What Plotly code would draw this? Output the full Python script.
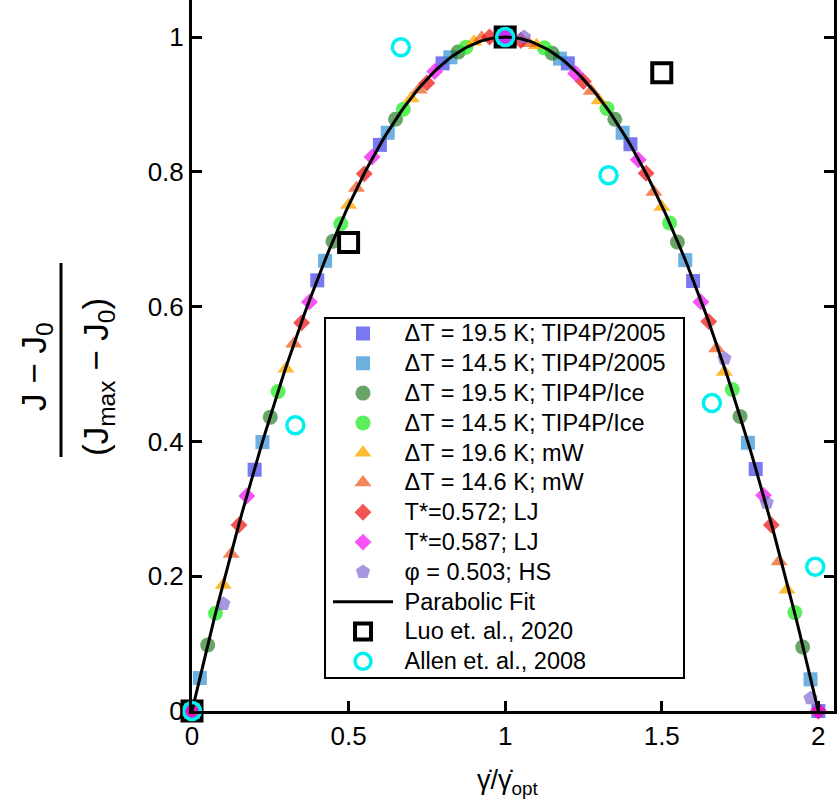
import numpy as np
import plotly.graph_objects as go

# ---- data ----
x_b195 = [0, 0.2, 0.4, 0.6, 0.8, 1.0, 1.2, 1.4, 1.6, 1.8, 2.0]
y_b195 = [0, 0.358, 0.639, 0.840, 0.961, 1.0, 0.961, 0.841, 0.638, 0.359, 0.0]

x_b145 = [0.025, 0.225, 0.425, 0.625, 0.825, 1.175, 1.375, 1.575, 1.775, 1.975]
y_b145 = [0.049, 0.399, 0.668, 0.858, 0.970, 0.968, 0.858, 0.669, 0.398, 0.047]

x_i195 = [0.05, 0.25, 0.45, 0.65, 0.85, 1.15, 1.35, 1.55, 1.75, 1.95]
y_i195 = [0.098, 0.436, 0.697, 0.878, 0.978, 0.976, 0.878, 0.696, 0.437, 0.095]

x_i145 = [0.075, 0.275, 0.475, 0.675, 0.875, 1.125, 1.325, 1.525, 1.725, 1.925]
y_i145 = [0.145, 0.474, 0.723, 0.893, 0.985, 0.984, 0.894, 0.724, 0.477, 0.146]

x_m196 = [0.1, 0.3, 0.5, 0.7, 0.9, 1.1, 1.3, 1.5, 1.7, 1.9]
y_m196 = [0.187, 0.508, 0.751, 0.909, 0.993, 0.988, 0.906, 0.748, 0.503, 0.180]

x_m146 = [0.125, 0.325, 0.525, 0.725, 0.925, 1.075, 1.275, 1.475, 1.675, 1.875]
y_m146 = [0.233, 0.545, 0.776, 0.922, 0.999, 0.991, 0.920, 0.770, 0.538, 0.222]

x_lj572 = [0, 0.15, 0.35, 0.55, 0.75, 0.95, 1.05, 1.25, 1.45, 1.65, 1.85, 2.0]
y_lj572 = [0, 0.276, 0.576, 0.797, 0.932, 1.0, 0.995, 0.934, 0.798, 0.578, 0.276, 0]

x_lj587 = [0, 0.175, 0.375, 0.575, 0.775, 1.0, 1.225, 1.425, 1.625, 1.825, 2.0]
y_lj587 = [0, 0.319, 0.607, 0.822, 0.949, 1.0, 0.946, 0.818, 0.607, 0.320, 0]

x_hs = [0.1, 1.06, 1.7, 1.835, 1.975]
y_hs = [0.159, 1.0, 0.523, 0.309, 0.019]

fit_coeffs = [-1.0, 2.0, 0.0]   # parabolic fit  a*x^2 + b*x + c

x_luo = [0, 0.5, 1.0, 1.5]
y_luo = [0, 0.695, 1.0, 0.947]

x_allen = [0, 0.33, 0.667, 1.0, 1.33, 1.66, 1.99]
y_allen = [0, 0.424, 0.985, 1.0, 0.795, 0.457, 0.214]

x_ticks = [0, 0.5, 1, 1.5, 2]
x_ticklabels = ["0", "0.5", "1", "1.5", "2"]
y_ticks = [0, 0.2, 0.4, 0.6, 0.8, 1]
y_ticklabels = ["0", "0.2", "0.4", "0.6", "0.8", "1"]

series = [
    ("ΔT = 19.5 K; TIP4P/2005", x_b195, y_b195, "square", 14, "rgba(62,62,234,0.7)"),
    ("ΔT = 14.5 K; TIP4P/2005", x_b145, y_b145, "square", 14, "rgba(49,142,211,0.7)"),
    ("ΔT = 19.5 K; TIP4P/Ice", x_i195, y_i195, "circle", 15, "rgba(25,116,25,0.65)"),
    ("ΔT = 14.5 K; TIP4P/Ice", x_i145, y_i145, "circle", 15, "rgba(22,234,22,0.7)"),
    ("ΔT = 19.6 K; mW", x_m196, y_m196, "triangle-up", 15, "rgba(255,170,0,0.8)"),
    ("ΔT = 14.6 K; mW", x_m146, y_m146, "triangle-up", 15, "rgba(239,84,19,0.7)"),
    ("T*=0.572; LJ", x_lj572, y_lj572, "diamond", 13, "rgba(236,10,10,0.7)"),
    ("T*=0.587; LJ", x_lj587, y_lj587, "diamond", 13, "rgba(241,10,241,0.7)"),
    ("φ = 0.503; HS", x_hs, y_hs, "pentagon", 15, "rgba(131,105,211,0.7)"),
]

FONT = "Liberation Sans, Arial, Helvetica, sans-serif"


def leg(name):
    return '<span style="font-size:23.5px">\u00a0' + name + '</span>'


fig = go.Figure()
for i, (name, xs, ys, sym, sz, col) in enumerate(series):
    fig.add_trace(go.Scatter(
        x=xs, y=ys, mode="markers", name=leg(name), legendgroup=f"g{i}",
        marker=dict(symbol=sym, size=sz, color=col, line=dict(width=0)),
        cliponaxis=False,
    ))

xf = np.linspace(0, 2, 201)
fig.add_trace(go.Scatter(
    x=xf, y=np.polyval(fit_coeffs, xf), mode="lines", name=leg("Parabolic Fit"),
    legendgroup="gfit", line=dict(color="black", width=3), cliponaxis=False,
))
fig.add_trace(go.Scatter(
    x=x_luo, y=y_luo, mode="markers", name=leg("Luo et. al., 2020"), legendgroup="gluo",
    marker=dict(symbol="square-open", size=19, color="black", line=dict(width=4, color="black")),
    cliponaxis=False,
))
fig.add_trace(go.Scatter(
    x=x_allen, y=y_allen, mode="markers", name=leg("Allen et. al., 2008"), legendgroup="gallen",
    marker=dict(symbol="circle-open", size=17, color="#00f0f0", line=dict(width=3.5, color="#00f0f0")),
    cliponaxis=False,
))

axis_common = dict(
    showline=True, linecolor="black", linewidth=3,
    ticks="inside", ticklen=10, tickwidth=2.5, tickcolor="black",
    showgrid=False, zeroline=False,
    tickfont=dict(family=FONT, size=26, color="black"),
)

L, R, T, B = 192, 834, 0, 711   # plot area in page pixels
W, H = 838, 802


def px(x):
    return (x - L) / (R - L)


def py(y):
    return (B - y) / (B - T)


fig.update_layout(
    width=W, height=H,
    margin=dict(l=L, r=W - R, t=T, b=H - B),
    paper_bgcolor="white", plot_bgcolor="white",
    font=dict(family=FONT, color="black"),
    showlegend=True,
    legend=dict(
        x=px(328), y=py(314), xanchor="left", yanchor="top",
        bgcolor="rgba(0,0,0,0)", borderwidth=0,
        font=dict(family=FONT, size=20, color="black"),
        tracegroupgap=0.8, itemsizing="trace", itemwidth=60,
    ),
    xaxis=dict(range=[0, 2.05], tickvals=x_ticks, ticktext=x_ticklabels, mirror=False, **axis_common),
    yaxis=dict(range=[0, 1.055], tickvals=y_ticks, ticktext=y_ticklabels, mirror="ticks", **axis_common),
)

# legend frame
fig.add_shape(type="rect", xref="paper", yref="paper",
              x0=px(325), x1=px(684), y0=py(678), y1=py(318),
              line=dict(color="black", width=2), fillcolor="white", layer="below")

# x-axis title
fig.add_annotation(xref="paper", yref="paper", x=px(508), y=py(782),
                   text="γ̇/γ̇<sub>opt</sub>", showarrow=False,
                   font=dict(family=FONT, size=27, color="black"),
                   xanchor="center", yanchor="middle")

# y-axis title as a fraction
fig.add_annotation(xref="paper", yref="paper", x=px(36), y=py(367),
                   text="J − J<sub>0</sub>", showarrow=False, textangle=-90,
                   font=dict(family=FONT, size=35, color="black"),
                   xanchor="center", yanchor="middle")
fig.add_annotation(xref="paper", yref="paper", x=px(98), y=py(377),
                   text="(J<sub>max</sub> − J<sub>0</sub>)", showarrow=False, textangle=-90,
                   font=dict(family=FONT, size=35, color="black"),
                   xanchor="center", yanchor="middle")
fig.add_shape(type="line", xref="paper", yref="paper",
              x0=px(61), x1=px(61), y0=py(457), y1=py(263),
              line=dict(color="black", width=3))

fig.write_html("out.html", config={"displayModeBar": False},
               post_script="document.body.style.margin='0';")
